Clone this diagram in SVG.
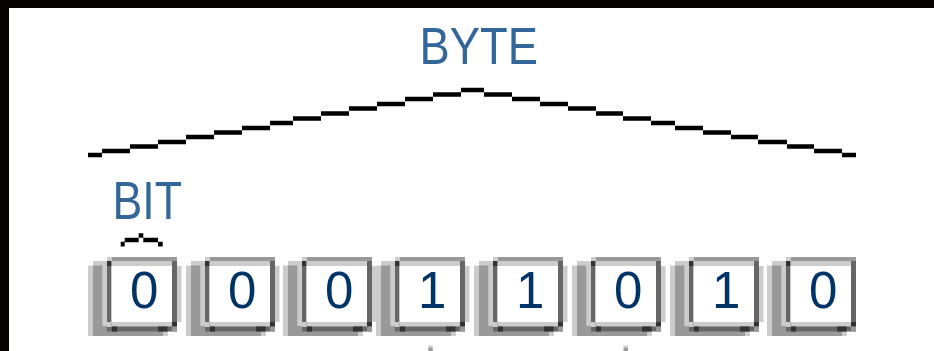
<svg xmlns="http://www.w3.org/2000/svg" xmlns:xlink="http://www.w3.org/1999/xlink" width="934" height="351" viewBox="0 0 934 351">
  <style>
    .label { font-family: "Liberation Sans", Arial, sans-serif; fill: #336699; }
    .digit { font-family: "Liberation Sans", Arial, sans-serif; font-size: 51px; fill: #003366; text-anchor: middle; }
    .stair { fill: none; stroke: #000; stroke-width: 4.7; stroke-linecap: butt; }
  </style>
  <defs>
    <!-- beveled key, origin = left edge / top edge of the front face -->
    <g id="key">
      <!-- drop shadow behind the key -->
      <rect x="-19" y="8.5" width="80" height="70.5" fill="#cccccc"/>
      <rect x="-14" y="4" width="14" height="5" fill="#cccccc"/>
      <rect x="-14" y="8.5" width="70" height="70.5" fill="#999999"/>
      <rect x="-4.7" y="4" width="4.7" height="65" fill="#cccccc"/>
      <!-- front face -->
      <rect x="0" y="4" width="70" height="70.5" fill="#666666"/>
      <rect x="4.5" y="0" width="65.5" height="4" fill="#999999"/>
      <rect x="0" y="0" width="4.5" height="4" fill="#cccccc"/>
      <rect x="0" y="4" width="4.5" height="5" fill="#333333"/>
      <rect x="4.5" y="4" width="60.5" height="65.5" fill="#cccccc"/>
      <rect x="4.5" y="9" width="60.5" height="56" fill="#ffffff"/>
      <rect x="0" y="65" width="4.5" height="5" fill="#cccccc"/>
      <rect x="5" y="69.5" width="5" height="5" fill="#333333"/>
      <rect x="51" y="69.5" width="9.5" height="5" fill="#333333"/>
      <rect x="65" y="65" width="5" height="4.5" fill="#333333"/>
      <rect x="65" y="69.5" width="5" height="5" fill="#999999"/>
    </g>
    <rect id="edge" x="70" y="9" width="4.5" height="56" fill="#cccccc"/>
  </defs>

  <!-- page background and frame -->
  <rect x="0" y="0" width="934" height="351" fill="#ffffff"/>
  <rect x="0" y="0" width="934" height="8" fill="#070303"/>
  <rect x="0" y="0" width="9" height="351" fill="#070303"/>

  <!-- labels -->
  <g id="byte-label">
    <text class="label" x="419.5" y="64" font-size="52" textLength="118.5" lengthAdjust="spacingAndGlyphs">BYTE</text>
  </g>
  <g id="bit-label">
    <text class="label" x="112.5" y="219" font-size="53" textLength="69.5" lengthAdjust="spacingAndGlyphs">BIT</text>
  </g>

  <!-- brackets -->
  <g id="connectors">
    <path class="stair" d="M88 155h14 M102 151h28 M130 146.5h28 M158 142h28 M186 137h28 M214 132.5h28 M242 128h28 M270 123h23 M293 118.5h28 M321 113.5h28 M349 108.5h28 M377 104h28 M405 99h28 M433 94.5h28 M461 90h23 M484 94.5h28 M512 99h28 M540 104h28 M568 108.5h28 M596 113.5h27 M623 118.5h28 M651 123h24 M675 128h28 M703 132.5h28 M731 137h27 M758 142h29 M787 146.5h27 M814 151h28 M842 155h14"/>
    <path class="stair" d="M120.7 244.2h4 M124.7 240h14 M138.7 235.5h4.6 M143.3 240h14.7 M158 244.2h4.7"/>
  </g>

  <!-- the eight bits -->
  <g id="bit-1" transform="translate(107 257)">
    <use xlink:href="#key"/><use xlink:href="#edge"/>
    <text class="digit" x="37.2" y="51">0</text>
  </g>
  <g id="bit-2" transform="translate(205 257)">
    <use xlink:href="#key"/><use xlink:href="#edge"/>
    <text class="digit" x="37.2" y="51">0</text>
  </g>
  <g id="bit-3" transform="translate(302 257)">
    <use xlink:href="#key"/><use xlink:href="#edge"/>
    <text class="digit" x="37.2" y="51">0</text>
  </g>
  <g id="bit-4" transform="translate(395 257)">
    <use xlink:href="#key"/><use xlink:href="#edge"/>
    <text class="digit" x="37.2" y="51">1</text>
  </g>
  <g id="bit-5" transform="translate(493 257)">
    <use xlink:href="#key"/><use xlink:href="#edge"/>
    <text class="digit" x="37.2" y="51">1</text>
  </g>
  <g id="bit-6" transform="translate(591 257)">
    <use xlink:href="#key"/><use xlink:href="#edge"/>
    <text class="digit" x="37.2" y="51">0</text>
  </g>
  <g id="bit-7" transform="translate(689 257)">
    <use xlink:href="#key"/><use xlink:href="#edge"/>
    <text class="digit" x="37.2" y="51">1</text>
  </g>
  <g id="bit-8" transform="translate(786 257)">
    <use xlink:href="#key"/>
    <text class="digit" x="37.2" y="51">0</text>
  </g>

  <!-- small tick marks at the lower edge -->
  <rect x="428.3" y="345.5" width="4.5" height="2.5" fill="#cccccc"/>
  <rect x="428.3" y="348" width="4.5" height="3" fill="#999999"/>
  <rect x="623.5" y="345.5" width="4.5" height="2.5" fill="#cccccc"/>
  <rect x="623.5" y="348" width="4.5" height="3" fill="#999999"/>
</svg>
